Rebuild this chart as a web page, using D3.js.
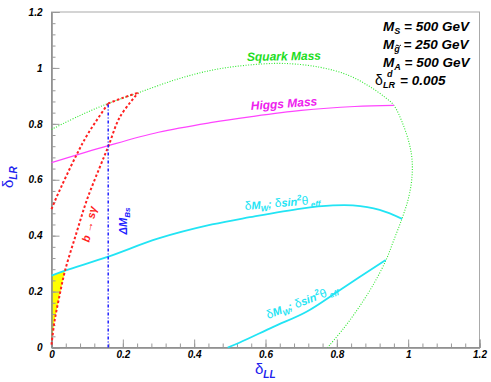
<!DOCTYPE html>
<html><head><meta charset="utf-8">
<script src="https://cdn.jsdelivr.net/npm/d3@7"></script>
<style>
body{margin:0;background:#fff;}
svg text{font-family:"Liberation Sans",Arial,sans-serif;}
</style></head>
<body><svg id="c" width="491" height="382"></svg>
<script>
// ---- data (delta_LL, delta_LR) ----
const xTicks = [0, 0.2, 0.4, 0.6, 0.8, 1, 1.2];
const yTicks = [0, 0.2, 0.4, 0.6, 0.8, 1, 1.2];
const tickLabels = ["0", "0.2", "0.4", "0.6", "0.8", "1", "1.2"];
const squarkMass = [[0,0.78],[0.08,0.83],[0.159,0.873],[0.243,0.911],[0.351,0.959],[0.45,0.992],[0.55,1.01],[0.65,1.016],[0.75,1.003],[0.83,0.975],[0.89,0.935],[0.935,0.895],[0.96,0.866],[0.985,0.8],[1.003,0.73],[1.011,0.67],[1.01,0.6],[1.0,0.53],[0.983,0.462],[0.96,0.385],[0.937,0.31],[0.9,0.22],[0.86,0.14],[0.82,0.07],[0.774,0.0]];
const higgsMass = [[0,0.661],[0.159,0.722],[0.3,0.77],[0.45,0.805],[0.556,0.825],[0.7,0.848],[0.85,0.862],[0.96,0.866]];
const ewUpper = [[0,0.257],[0.038,0.275],[0.159,0.325],[0.3,0.39],[0.45,0.44],[0.556,0.466],[0.7,0.497],[0.789,0.508],[0.845,0.508],[0.92,0.492],[0.983,0.46]];
const ewLower = [[0.494,0],[0.528,0.018],[0.622,0.074],[0.715,0.128],[0.809,0.206],[0.937,0.313]];
const bsgLeft = [[0,0.495],[0.0146,0.539],[0.069,0.686],[0.103,0.766],[0.159,0.873]];
const bsgTop = [[0.159,0.873],[0.2,0.893],[0.243,0.911]];
const bsgRight = [[0,0.01],[0.008,0.09],[0.02,0.17],[0.038,0.275],[0.07,0.41],[0.099,0.527],[0.136,0.647],[0.159,0.718],[0.192,0.825],[0.243,0.911]];
const allowedRegion = [[0,0.257],[0,0.01],[0.008,0.09],[0.02,0.17],[0.038,0.275],[0.02,0.267]];
const deltaMBs = [[0.159,0],[0.159,0.873]];

const svg = d3.select("#c");
const x = d3.scaleLinear().domain([0,1.2]).range([51.5,479.5]);
const y = d3.scaleLinear().domain([0,1.2]).range([347.5,12]);
const minor = d3.range(0,1.2001,0.04);

// frame
svg.append("rect").attr("x",x(0)).attr("y",y(1.2)).attr("width",x(1.2)-x(0)).attr("height",y(0)-y(1.2))
  .attr("fill","none").attr("stroke","#aaa").attr("stroke-width",1);

const lineC = d3.line().x(d=>x(d[0])).y(d=>y(d[1])).curve(d3.curveCatmullRom.alpha(0.5));
const lineL = d3.line().x(d=>x(d[0])).y(d=>y(d[1]));
svg.append("path").attr("d", lineL(allowedRegion)+"Z").attr("fill","#ffff00").attr("stroke","none");

// axes
function styleAxis(g){ g.select(".domain").attr("stroke","#888"); g.selectAll(".tick line").attr("stroke","#999"); }
const ax = svg.append("g").attr("transform",`translate(0,${y(0)})`)
  .call(d3.axisBottom(x).tickValues(xTicks).tickSize(-8).tickPadding(3).tickFormat((d,i)=>tickLabels[i]));
const axm = svg.append("g").attr("transform",`translate(0,${y(0)})`)
  .call(d3.axisBottom(x).tickValues(minor).tickSize(-4).tickFormat(""));
const ay = svg.append("g").attr("transform",`translate(${x(0)},0)`)
  .call(d3.axisLeft(y).tickValues(yTicks).tickSize(-8).tickPadding(9).tickFormat((d,i)=>tickLabels[i]));
const aym = svg.append("g").attr("transform",`translate(${x(0)},0)`)
  .call(d3.axisLeft(y).tickValues(minor).tickSize(-4).tickFormat(""));
[ax,axm,ay,aym].forEach(styleAxis);
[ax,ay].forEach(g=>g.selectAll("text").attr("font-size",10).attr("font-weight","bold").attr("font-style","italic")
  .attr("fill","#000").attr("font-family","Liberation Sans, Arial, sans-serif"));

// curves
svg.append("path").attr("d",lineC(squarkMass)).attr("fill","none").attr("stroke","#2ee82e").attr("stroke-width",1.1).attr("stroke-dasharray","1,1.6");
svg.append("path").attr("d",lineC(higgsMass)).attr("fill","none").attr("stroke","#ff44ff").attr("stroke-width",1.2);
svg.append("path").attr("d",lineC(ewUpper)).attr("fill","none").attr("stroke","#22e4f4").attr("stroke-width",1.8);
svg.append("path").attr("d",lineC(ewLower)).attr("fill","none").attr("stroke","#22e4f4").attr("stroke-width",1.8);
[bsgLeft,bsgTop,bsgRight].forEach(a=>svg.append("path").attr("d",lineC(a)).attr("fill","none").attr("stroke","#ff2020").attr("stroke-width",2).attr("stroke-dasharray","2.5,2.2"));
svg.append("path").attr("d",lineL(deltaMBs)).attr("fill","none").attr("stroke","#2020ff").attr("stroke-width",1.5).attr("stroke-dasharray","3,2,1,2");

// labels
function lab(tx, ty, rot, color, size){
  return svg.append("text").attr("transform",`translate(${tx},${ty}) rotate(${rot})`)
    .attr("fill",color).attr("font-size",size).attr("font-weight","bold").attr("font-style","italic");
}
lab(247,61,-1,"#22dd22",12).text("Squark Mass");
lab(251,110,-4,"#ee22ee",12).text("Higgs Mass");

lab(93,225,-78,"#ff2020",11).attr("text-anchor","middle").text("b \u2192 s\u03b3");

const dm = lab(127,221,-90,"#2020ff",11).attr("text-anchor","middle");
dm.append("tspan").text("\u0394M");
dm.append("tspan").attr("dy",3).attr("font-size",8).text("Bs");

function ewLabel(tx,ty,rot){
  const t = lab(tx,ty,rot,"#22e4f4",11);
  t.append("tspan").attr("font-weight","normal").attr("font-style","normal").attr("font-size",12).text("\u03b4");
  t.append("tspan").text("M");
  t.append("tspan").attr("dy",3).attr("font-size",8).text("W");
  t.append("tspan").attr("dy",-3).text("; ");
  t.append("tspan").attr("font-weight","normal").attr("font-style","normal").attr("font-size",12).text("\u03b4");
  t.append("tspan").text("sin");
  t.append("tspan").attr("dy",-5).attr("font-size",8).text("2");
  t.append("tspan").attr("dy",5).attr("font-weight","normal").attr("font-style","normal").attr("font-size",12).text("\u03b8");
  t.append("tspan").attr("dy",3).attr("font-size",8).text(" eff");
}
ewLabel(245,210,-5);
ewLabel(268,319,-21);

// parameter box
function paramLine(main, sub, rest, yy){
  const t = svg.append("text").attr("x",383).attr("y",yy).attr("font-size",13.5).attr("font-weight","bold").attr("font-style","italic").attr("fill","#000");
  t.append("tspan").text(main);
  t.append("tspan").attr("dy",3).attr("font-size",9).text(sub);
  t.append("tspan").attr("dy",-3).text(rest);
  return t;
}
paramLine("M","S"," = 500 GeV",31);
paramLine("M","g"," = 250 GeV",49);
// tilde over the gluino subscript
svg.append("path").attr("d","M395.5,46.2 q1.3,-2 2.7,-0.6 t2.7,-0.6").attr("fill","none").attr("stroke","#000").attr("stroke-width",1);
paramLine("M","A"," = 500 GeV",67);
const dl = svg.append("text").attr("x",375).attr("y",85).attr("fill","#000");
dl.append("tspan").attr("font-size",14).text("\u03b4");
dl.append("tspan").attr("x",387).attr("y",77).attr("font-size",9).attr("font-weight","bold").attr("font-style","italic").text("d");
dl.append("tspan").attr("x",383).attr("y",88).attr("font-size",9).attr("font-weight","bold").attr("font-style","italic").text("LR");
dl.append("tspan").attr("x",400).attr("y",85).attr("font-size",13.5).attr("font-weight","bold").attr("font-style","italic").text("= 0.005");

// axis titles
const xt = svg.append("text").attr("x",255).attr("y",374).attr("fill","#2222ee");
xt.append("tspan").attr("font-size",15).text("\u03b4");
xt.append("tspan").attr("dy",4).attr("font-size",10).attr("font-weight","bold").attr("font-style","italic").text("LL");
const yt = svg.append("text").attr("transform","translate(13,188) rotate(-90)").attr("fill","#2222ee");
yt.append("tspan").attr("font-size",15).text("\u03b4");
yt.append("tspan").attr("dy",4).attr("font-size",10).attr("font-weight","bold").attr("font-style","italic").text("LR");
</script></body></html>
